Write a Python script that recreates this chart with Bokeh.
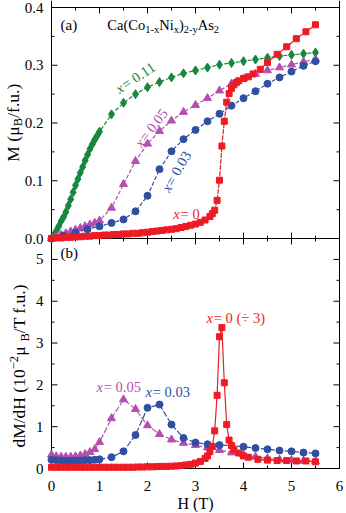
import math
from bokeh.plotting import figure
from bokeh.models import Label, Range1d
from bokeh.embed import file_html
from bokeh.resources import INLINE

FONT = "Liberation Serif"
RED = "#ed1c24"
GREEN = "#16873d"
MAGENTA = "#b44fb0"
BLUE = "#2f4fa3"

# ---------------- panel (a): M(H) ----------------
H_a_011 = [0.0, 0.05, 0.1, 0.15, 0.2, 0.25, 0.3, 0.35, 0.4, 0.45, 0.5, 0.55, 0.6, 0.65, 0.7, 0.75,
           0.8, 0.85, 0.9, 0.95, 1.0, 1.25, 1.5, 1.75, 2.0, 2.25, 2.5, 2.75, 3.0, 3.25, 3.5, 3.75,
           4.0, 4.25, 4.5, 4.75, 5.0, 5.25, 5.5]
M_a_011 = [0.0, 0.006, 0.013, 0.021, 0.03, 0.037, 0.046, 0.057, 0.068, 0.08, 0.092, 0.103, 0.114,
           0.124, 0.135, 0.145, 0.155, 0.163, 0.171, 0.178, 0.185, 0.215, 0.235, 0.25, 0.262, 0.271,
           0.279, 0.286, 0.291, 0.296, 0.301, 0.304, 0.307, 0.31, 0.313, 0.316, 0.318, 0.32, 0.322]

H_a_005 = [0.0, 0.1, 0.2, 0.3, 0.4, 0.5, 0.6, 0.7, 0.8, 0.9, 1.0, 1.25, 1.5, 1.75, 2.0, 2.25, 2.5,
           2.75, 3.0, 3.25, 3.5, 3.75, 4.0, 4.25, 4.5, 4.75, 5.0, 5.25, 5.5]
M_a_005 = [0.0, 0.003, 0.006, 0.009, 0.012, 0.015, 0.018, 0.021, 0.024, 0.027, 0.031, 0.053, 0.094,
           0.134, 0.164, 0.186, 0.204, 0.219, 0.231, 0.243, 0.256, 0.268, 0.277, 0.285, 0.291, 0.296,
           0.301, 0.306, 0.31]

H_a_003 = [0.0, 0.25, 0.5, 0.75, 1.0, 1.25, 1.5, 1.75, 2.0, 2.25, 2.5, 2.75, 3.0, 3.25, 3.5, 3.75,
           4.0, 4.25, 4.5, 4.75, 5.0, 5.25, 5.5]
M_a_003 = [0.0, 0.005, 0.01, 0.016, 0.021, 0.027, 0.033, 0.047, 0.074, 0.12, 0.151, 0.172, 0.188,
           0.203, 0.216, 0.23, 0.243, 0.255, 0.268, 0.279, 0.289, 0.299, 0.307]

H_a_0 = [0.0, 0.1, 0.2, 0.3, 0.4, 0.5, 0.6, 0.7, 0.8, 0.9, 1.0, 1.1, 1.2, 1.3, 1.4, 1.5, 1.6, 1.7,
         1.8, 1.9, 2.0, 2.1, 2.2, 2.3, 2.4, 2.5, 2.6, 2.7, 2.8, 2.9, 3.0, 3.1, 3.2, 3.3, 3.35, 3.4,
         3.45, 3.5, 3.55, 3.6, 3.65, 3.7, 3.75, 3.8, 3.85, 3.9, 4.0, 4.1, 4.2, 4.35, 4.5, 4.7, 4.9,
         5.1, 5.3, 5.5]
M_a_0 = [0.0, 0.001, 0.001, 0.002, 0.002, 0.003, 0.003, 0.004, 0.004, 0.005, 0.005, 0.006, 0.006,
         0.007, 0.007, 0.008, 0.008, 0.009, 0.009, 0.010, 0.011, 0.012, 0.013, 0.014, 0.015, 0.016,
         0.017, 0.019, 0.021, 0.023, 0.025, 0.028, 0.032, 0.038, 0.043, 0.049, 0.066, 0.101, 0.16,
         0.203, 0.236, 0.251, 0.26, 0.266, 0.27, 0.273, 0.277, 0.28, 0.285, 0.293, 0.305, 0.319,
         0.332, 0.346, 0.358, 0.37]

# ---------------- panel (b): dM/dH ----------------
H_b_005 = [0.0, 0.1, 0.2, 0.3, 0.4, 0.5, 0.6, 0.7, 0.8, 0.9, 1.0, 1.25, 1.5, 1.75, 2.0, 2.25, 2.5,
           2.75, 3.0, 3.25, 3.5, 3.75, 4.0, 4.25, 4.5, 4.75, 5.0, 5.25, 5.5]
D_b_005 = [0.33, 0.29, 0.28, 0.28, 0.28, 0.29, 0.31, 0.34, 0.39, 0.46, 0.63, 1.2, 1.65, 1.42, 1.03,
           0.82, 0.69, 0.61, 0.56, 0.5, 0.44, 0.38, 0.33, 0.28, 0.24, 0.21, 0.2, 0.18, 0.17]

H_b_003 = [0.0, 0.1, 0.2, 0.3, 0.4, 0.5, 0.6, 0.7, 0.8, 0.9, 1.0, 1.25, 1.5, 1.75, 2.0, 2.25, 2.5,
           2.75, 3.0, 3.25, 3.5, 3.75, 4.0, 4.25, 4.5, 4.75, 5.0, 5.25, 5.5]
D_b_003 = [0.21, 0.2, 0.19, 0.18, 0.18, 0.19, 0.19, 0.2, 0.2, 0.21, 0.22, 0.27, 0.41, 0.8, 1.45,
           1.53, 1.05, 0.73, 0.62, 0.58, 0.56, 0.55, 0.52, 0.49, 0.46, 0.43, 0.41, 0.38, 0.36]

H_b_0 = [0.0, 0.1, 0.2, 0.3, 0.4, 0.5, 0.6, 0.7, 0.8, 0.9, 1.0, 1.1, 1.2, 1.3, 1.4, 1.5, 1.6, 1.7,
         1.8, 1.9, 2.0, 2.1, 2.2, 2.3, 2.4, 2.5, 2.6, 2.7, 2.8, 2.9, 3.0, 3.1, 3.2, 3.25, 3.3, 3.35,
         3.4, 3.45, 3.5, 3.55, 3.6, 3.65, 3.7, 3.75, 3.8, 3.9, 4.0, 4.1, 4.3, 4.5, 4.7, 4.9, 5.1,
         5.3, 5.5]
D_b_0 = [0.03, 0.03, 0.03, 0.03, 0.03, 0.03, 0.03, 0.03, 0.03, 0.03, 0.03, 0.03, 0.03, 0.03, 0.03,
         0.03, 0.03, 0.03, 0.035, 0.035, 0.04, 0.04, 0.045, 0.05, 0.05, 0.055, 0.06, 0.07, 0.085,
         0.1, 0.13, 0.17, 0.24, 0.3, 0.4, 0.53, 0.9, 1.75, 3.15, 3.37, 2.05, 1.05, 0.68, 0.55, 0.45,
         0.37, 0.3, 0.27, 0.22, 0.2, 0.19, 0.19, 0.18, 0.18, 0.16]

X_TICKS = [0, 1, 2, 3, 4, 5, 6]
X_MINOR = [0.5, 1.5, 2.5, 3.5, 4.5, 5.5]
X_LABELS = ["0", "1", "2", "3", "4", "5", "6"]
A_TICKS = [0.0, 0.1, 0.2, 0.3, 0.4]
A_MINOR = [0.05, 0.15, 0.25, 0.35]
A_LABELS = ["0.0", "0.1", "0.2", "0.3", "0.4"]
B_TICKS = [0, 1, 2, 3, 4, 5]
B_MINOR = [0.5, 1.5, 2.5, 3.5, 4.5]
B_LABELS = ["0", "1", "2", "3", "4", "5"]

# ---- layout constants (pixels); the frame covers the whole canvas ----
W, HGT = 346, 512
TOP = 7                 # panel a top
MID = 238               # boundary between panels
BOT = 468               # bottom of panel b
LEFT = 51               # H = 0
RIGHT = 339             # H = 6
PX_T = (RIGHT - LEFT) / 6.0
X_MIN = -LEFT / PX_T
X_END = 6.0 + (W - RIGHT) / PX_T

A_MAX = 0.4
B_MAX = 5.5
PX_B = (BOT - MID) / B_MAX
Y_BOT = -(HGT - BOT) / PX_B
Y_TOP = B_MAX + MID / PX_B
PX_A = (MID - TOP) / A_MAX
A_START = -(HGT - MID) / PX_A
A_END = A_MAX + TOP / PX_A

WID = {' ': 0.25, '(': 0.333, ')': 0.333, '.': 0.25, '/': 0.278, '-': 0.333, '=': 0.564,
       '÷': 0.564, '−': 0.564, 'A': 0.722, 'B': 0.667, 'C': 0.667, 'H': 0.722, 'M': 0.889,
       'N': 0.722, 'T': 0.611, 'a': 0.444, 'd': 0.5, 'f': 0.333, 'i': 0.278, 'o': 0.5,
       's': 0.389, 'u': 0.5, 'x': 0.5, 'y': 0.5, 'μ': 0.576}


def text_width(s, size, italic=False):
    w = 0.0
    for ch in s:
        if italic and ch == 'x':
            w += 0.56
        else:
            w += WID.get(ch, 0.5)
    return w * size


def lab(p, x, y, txt, size, color="black", align="center", xo=0, yo=0, yr="default",
        angle=0.0, italic=False):
    p.add_layout(Label(x=x, y=y, x_offset=xo, y_offset=yo, text=txt, angle=angle,
                       y_range_name=yr, text_font=FONT, text_font_size=f"{size}px",
                       text_color=color, text_font_style="italic" if italic else "normal",
                       text_align=align, text_baseline="middle"))


def rich(p, x, y, pieces, color="black", angle=0.0, yr="default"):
    """(x, y) = left end of the middle line of the main text."""
    th = math.radians(angle)
    ux, uy = math.cos(th), math.sin(th)
    px, py = -math.sin(th), math.cos(th)
    main = pieces[0][1]
    adv = 0.0
    for txt, size, kind in pieces:
        w = text_width(txt, size, kind == "i")
        up = 0.34 * (size - main)
        if kind == "sub":
            up += -0.3 * size
        elif kind == "sup":
            up += 0.55 * size
        c = adv + w / 2
        lab(p, x, y, txt, size, color, "center", c * ux + up * px, c * uy + up * py, yr,
            th, kind == "i")
        adv += w


p = figure(width=W, height=HGT, x_range=Range1d(X_MIN, X_END), y_range=Range1d(Y_BOT, Y_TOP),
           extra_y_ranges={"a": Range1d(A_START, A_END)},
           output_backend="svg", toolbar_location=None, x_axis_location=None,
           y_axis_location=None, min_border=0)
p.xgrid.visible = False
p.ygrid.visible = False
p.outline_line_color = None
p.background_fill_color = "white"
p.border_fill_color = "white"

K = dict(color="black", line_width=1)
MAJ_X, MIN_X = 6 / PX_T, 3 / PX_T
MAJ_B, MIN_B = 6 / PX_B, 3 / PX_B
MAJ_A, MIN_A = 6 / PX_A, 3 / PX_A

# frame lines: left, right, bottom, boundary, top
p.line([X_TICKS[0], X_TICKS[0]], [0, Y_TOP], **K)
p.line([X_TICKS[-1], X_TICKS[-1]], [0, Y_TOP], **K)
p.line([X_TICKS[0], X_TICKS[-1]], [0, 0], **K)
p.line([X_TICKS[0], X_TICKS[-1]], [B_MAX, B_MAX], **K)
p.line([X_TICKS[0], X_TICKS[-1]], [A_MAX, A_MAX], y_range_name="a", **K)

# left / right inward ticks for both panels
for ticks, minor, rng in ((A_TICKS, A_MINOR, "a"), (B_TICKS, B_MINOR, "default")):
    p.segment(x0=0, x1=MAJ_X, y0=ticks, y1=ticks, y_range_name=rng, **K)
    p.segment(x0=0, x1=MIN_X, y0=minor, y1=minor, y_range_name=rng, **K)
    p.segment(x0=6 - MAJ_X, x1=6, y0=ticks, y1=ticks, y_range_name=rng, **K)
    p.segment(x0=6 - MIN_X, x1=6, y0=minor, y1=minor, y_range_name=rng, **K)
# top inward ticks
p.segment(x0=X_TICKS, x1=X_TICKS, y0=A_MAX - MAJ_A, y1=A_MAX, y_range_name="a", **K)
p.segment(x0=X_MINOR, x1=X_MINOR, y0=A_MAX - MIN_A, y1=A_MAX, y_range_name="a", **K)
# bottom inward ticks
p.segment(x0=X_TICKS, x1=X_TICKS, y0=0, y1=MAJ_B, **K)
p.segment(x0=X_MINOR, x1=X_MINOR, y0=0, y1=MIN_B, **K)
# boundary ticks pointing into both panels
p.segment(x0=X_TICKS, x1=X_TICKS, y0=B_MAX - MAJ_B, y1=B_MAX + MAJ_B, **K)
p.segment(x0=X_MINOR, x1=X_MINOR, y0=B_MAX - MIN_B, y1=B_MAX + MIN_B, **K)

# tick labels and axis titles
for v, t in zip(A_TICKS, A_LABELS):
    lab(p, 0, v, t, 15, align="right", xo=-8, yr="a")
for v, t in zip(B_TICKS, B_LABELS):
    lab(p, 0, v, t, 15, align="right", xo=-8)
for v, t in zip(X_TICKS, X_LABELS):
    lab(p, v, 0, t, 15, yo=-17)
lab(p, 3, 0, "H (T)", 16, yo=-35)

rich(p, -0.8125, 0.1325, [("M (μ", 17.5, "n"), ("B", 12.5, "sub"), ("/f.u.)", 17.5, "n")],
     "black", 90, "a")
rich(p, -0.667, 0.5, [("dM/dH (10", 17.5, "n"), ("−2", 12.5, "sup"), (" μ", 17.5, "n"),
                      ("B", 12.5, "sub"), ("/T f.u.)", 17.5, "n")], "black", 90)

# ---- panel a ----
pa = dict(y_range_name="a")
p.line(H_a_011, M_a_011, color=GREEN, line_width=1.2, line_dash="4 2", **pa)
p.scatter(H_a_011, M_a_011, marker="diamond", size=9, color=GREEN, **pa)
p.line(H_a_005, M_a_005, color=MAGENTA, line_width=1.2, line_dash="4 2", **pa)
p.scatter(H_a_005, M_a_005, marker="triangle", size=8, color=MAGENTA, **pa)
p.line(H_a_003, M_a_003, color=BLUE, line_width=1.2, line_dash="4 2", **pa)
p.scatter(H_a_003, M_a_003, marker="circle", size=7, color=BLUE, **pa)
p.line(H_a_0, M_a_0, color=RED, line_width=1.2, line_dash="5 1", **pa)
p.scatter(H_a_0, M_a_0, marker="square", size=6, color=RED, **pa)

rich(p, 0.19, 0.369, [("(a)", 15, "n")], yr="a")
rich(p, 1.163, 0.369, [("Ca(Co", 14.5, "n"), ("1-x", 10.5, "sub"), ("Ni", 14.5, "n"),
                       ("x", 10.5, "sub"), (")", 14.5, "n"), ("2-y", 10.5, "sub"),
                       ("As", 14.5, "n"), ("2", 10.5, "sub")], yr="a")
rich(p, 1.35, 0.256, [("x", 14.5, "i"), (" = 0.11", 14.5, "n")], GREEN, 34, "a")
rich(p, 1.78, 0.16, [("x", 14.5, "i"), (" = 0.05", 14.5, "n")], MAGENTA, 52, "a")
rich(p, 2.36, 0.0815, [("x", 14.5, "i"), (" = 0.03", 14.5, "n")], BLUE, 60, "a")
rich(p, 2.52, 0.043, [("x", 14.5, "i"), (" = 0", 14.5, "n")], RED, 0, "a")

# ---- panel b ----
p.line(H_b_005, D_b_005, color=MAGENTA, line_width=1.2, line_dash="6 2")
p.scatter(H_b_005, D_b_005, marker="triangle", size=8, color=MAGENTA)
p.line(H_b_003, D_b_003, color=BLUE, line_width=1.2, line_dash="6 2")
p.scatter(H_b_003, D_b_003, marker="circle", size=7, color=BLUE)
p.line(H_b_0, D_b_0, color=RED, line_width=1.2)
p.scatter(H_b_0, D_b_0, marker="square", size=6, color=RED)

rich(p, 0.19, 5.15, [("(b)", 15, "n")])
rich(p, 3.21, 3.6, [("x", 14.5, "i"), (" = 0 (÷ 3)", 14.5, "n")], RED, 0)
rich(p, 0.92, 1.94, [("x", 14.5, "i"), (" = 0.05", 14.5, "n")], MAGENTA, 0)
rich(p, 1.94, 1.82, [("x", 14.5, "i"), (" = 0.03", 14.5, "n")], BLUE, 0)

open("out.html", "w").write(file_html(p, INLINE))
